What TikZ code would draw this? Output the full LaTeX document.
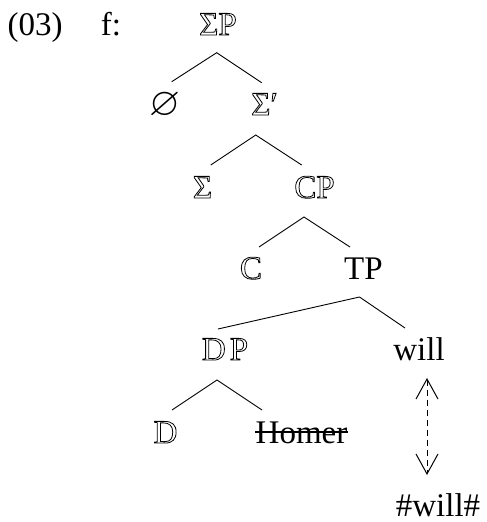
\documentclass[tikz,border=0pt]{standalone}
\usepackage{fontspec}
\usepackage{amssymb}
\usepackage{graphicx}
\setmainfont{Liberation Serif}
\usetikzlibrary{arrows.meta,calc}
\newcommand{\olt}[1]{\special{pdf:literal direct 1 Tr 0.8 w}#1\special{pdf:literal direct 0 Tr}}
\begin{document}
\begin{tikzpicture}[x=1pt,y=-1pt,
  every node/.style={inner sep=0pt,anchor=base,font=\fontsize{33}{40}\selectfont},
  edge/.style={line width=0.9pt},
  >={Straight Barb[length=20pt,width=22pt]}]
\useasboundingbox (0,0) rectangle (487,522);
\node (ex) at (35,35) {(03)};
\node (fl) at (111,35) {f:};
\node (sp) at (218,35) {\olt{ΣP}};
\node (zero) at (165,115) {\scalebox{1.6}{\fontsize{24.88}{30}\selectfont$\varnothing$}};
\node (sbar) at (264.5,115) {\olt{Σ′}};
\node (sig) at (202.5,198) {\olt{Σ}};
\node (cp) at (314.5,198) {\olt{CP}};
\node (c) at (251,279) {\olt{C}};
\node (tp) at (363.5,279) {TP};
\node (dp) at (225,360) {\olt{D\hspace{4pt}P}};
\node (will) at (419,360) {will};
\node (d) at (165.5,443) {\olt{D}};
\node (homer) at (301.5,443) {Homer};
\node (hwill) at (438,516) {\#will\#};
\draw[edge] ($(zero.base)+(6.7,-33.3)$) -- ($(sp.base)+(-1.3,17.7)$) -- ($(sbar.base)+(-2.8,-32.3)$);
\draw[edge] ($(sig.base)+(8.2,-33)$) -- ($(sbar.base)+(-8.8,20)$) -- ($(cp.base)+(-12.8,-33)$);
\draw[edge] ($(c.base)+(8,-32)$) -- ($(cp.base)+(-10.5,19)$) -- ($(tp.base)+(-13.5,-32)$);
\draw[edge] ($(dp.base)+(-7,-31)$) -- ($(tp.base)+(-4,18)$) -- ($(will.base)+(-14,-32)$);
\draw[edge] ($(d.base)+(6.5,-33)$) -- ($(dp.base)+(-8,20)$) -- ($(homer.base)+(-39.5,-33)$);
\draw[line width=1.2pt] ($(homer.base west)+(0,-11)$) -- ($(homer.base east)+(0,-11)$);
\draw[line width=1pt,dash pattern=on 6pt off 4pt,<->] ($(will.base)+(8,18)$) -- ($(hwill.base)+(-11,-41)$);
\end{tikzpicture}
\end{document}
